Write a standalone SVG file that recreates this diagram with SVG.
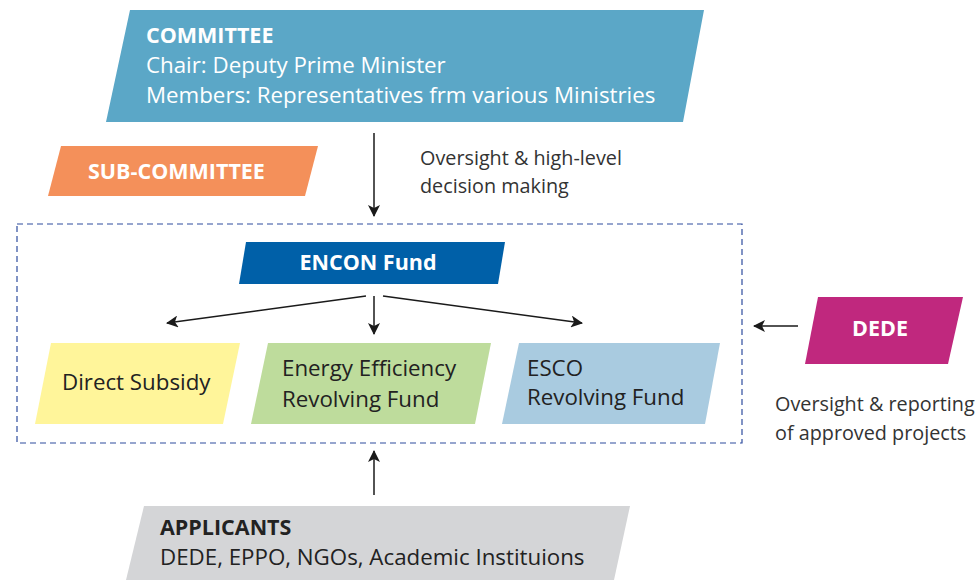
<svg xmlns="http://www.w3.org/2000/svg" width="975" height="580" viewBox="0 0 975 580">
<defs>
<marker id="ah" markerWidth="12" markerHeight="12" refX="11" refY="6" orient="auto" markerUnits="userSpaceOnUse">
<path d="M0,0 L12,6 L0,12 L3,6 Z" fill="#1a1a1a"/>
</marker>
<style>
text{font-family:"Open Sans","Noto Sans","Liberation Sans",sans-serif}
.b{font-weight:bold;fill:#fff;font-size:21.5px}
.bd{font-weight:bold;fill:#222;font-size:21.5px}
.w{fill:#fff;font-size:22.3px}
.d{fill:#222;font-size:22.3px}
.n{fill:#333;font-size:19.8px}
.c{stroke:#1a1a1a;stroke-width:1.5;fill:none;marker-end:url(#ah)}
</style>
</defs>
<rect width="975" height="580" fill="#fff"/>
<g id="committee">
<polygon points="130,10 704,10 683,122 106,122" fill="#5BA7C7"/>
<text class="b" x="146" y="43">COMMITTEE</text>
<text class="w" x="146" y="73">Chair: Deputy Prime Minister</text>
<text class="w" x="146" y="103">Members: Representatives frm various Ministries</text>
</g>
<g id="sub-committee">
<polygon points="61,146 318,146 305,196 48,196" fill="#F4905A"/>
<text class="b" x="88" y="179">SUB-COMMITTEE</text>
</g>
<g id="fund-box">
<rect x="17" y="224" width="725" height="219" fill="none" stroke="#2E4C9E" stroke-width="1.2" stroke-dasharray="6,4"/>
</g>
<g id="encon">
<polygon points="246,242 505,242 498,284 239,284" fill="#0060A8"/>
<text class="b" x="368" y="270" text-anchor="middle">ENCON Fund</text>
</g>
<g id="direct-subsidy">
<polygon points="51,343 240,343 223,424 35,424" fill="#FFF59A"/>
<text class="d" x="62" y="390">Direct Subsidy</text>
</g>
<g id="ee-fund">
<polygon points="268,343 491,343 475,424 251,424" fill="#BEDC9C"/>
<text class="d" x="282" y="376">Energy Efficiency</text>
<text class="d" x="282" y="407">Revolving Fund</text>
</g>
<g id="esco-fund">
<polygon points="519,343 720,343 705,424 502,424" fill="#A9CBE0"/>
<text class="d" x="527" y="376">ESCO</text>
<text class="d" x="527" y="405">Revolving Fund</text>
</g>
<g id="dede">
<polygon points="818,297 963,297 948,364 805,364" fill="#C0287E"/>
<text class="b" x="880" y="336" text-anchor="middle">DEDE</text>
</g>
<g id="applicants">
<polygon points="144,506 630,506 614,580 126,580" fill="#D4D5D7"/>
<text class="bd" x="160" y="535">APPLICANTS</text>
<text class="d" x="160" y="565">DEDE, EPPO, NGOs, Academic Instituions</text>
</g>
<g id="labels">
<text class="n" x="420" y="165">Oversight &amp; high-level</text>
<text class="n" x="420" y="193">decision making</text>
<text class="n" x="775" y="411">Oversight &amp; reporting</text>
<text class="n" x="775" y="440">of approved projects</text>
</g>
<g id="connectors">
<line class="c" x1="374" y1="133" x2="374" y2="216"/>
<line class="c" x1="374" y1="296" x2="374" y2="334"/>
<line class="c" x1="366" y1="296" x2="167" y2="323"/>
<line class="c" x1="383" y1="296" x2="582" y2="323"/>
<line class="c" x1="798" y1="326" x2="754" y2="326"/>
<line class="c" x1="374" y1="495" x2="374" y2="451"/>
</g>
</svg>
